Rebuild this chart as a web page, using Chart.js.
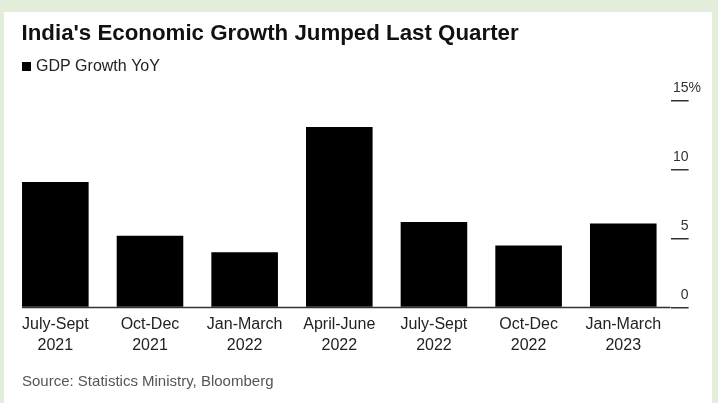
<!DOCTYPE html>
<html>
<head>
<meta charset="utf-8">
<script src="https://cdn.jsdelivr.net/npm/chart.js@4.4.1/dist/chart.umd.min.js"></script>
<style>
  html, body { margin: 0; padding: 0; }
  body { width: 718px; height: 403px; background: #e2eed9; position: relative; overflow: hidden; }
  #panel { position: absolute; left: 4px; top: 12px; width: 708px; height: 391px; background: #fff; }
  canvas { display: block; }
</style>
</head>
<body>
<div id="panel"><canvas id="gdp" width="708" height="391"></canvas></div>
<script>
// Quarterly real GDP growth, year over year (%)
const quarters = [
  ["July-Sept", "2021"],
  ["Oct-Dec", "2021"],
  ["Jan-March", "2022"],
  ["April-June", "2022"],
  ["July-Sept", "2022"],
  ["Oct-Dec", "2022"],
  ["Jan-March", "2023"]
];
const gdpGrowth = [9.1, 5.2, 4.0, 13.1, 6.2, 4.5, 6.1];
const yTicks = [0, 5, 10, 15];
const seriesName = "GDP Growth YoY";
const chartTitle = "India's Economic Growth Jumped Last Quarter";
const sourceNote = "Source: Statistics Ministry, Bloomberg";

const FONT = '"Liberation Sans", Arial, Helvetica, sans-serif';
const INK = '#333';

// Baseline, right-hand value labels, headline, key and source line
const decorations = {
  id: 'decorations',
  afterDatasetsDraw(chart) {
    const { ctx, chartArea, scales: { y } } = chart;
    const bars = chart.getDatasetMeta(0).data;
    const zeroY = y.getPixelForValue(0);
    ctx.save();
    ctx.strokeStyle = INK;
    ctx.lineWidth = 1.5;
    ctx.beginPath();
    ctx.moveTo(bars[0].x - bars[0].width / 2, zeroY);
    ctx.lineTo(chartArea.right, zeroY);
    ctx.stroke();

    ctx.font = '14px ' + FONT;
    ctx.fillStyle = INK;
    ctx.textBaseline = 'alphabetic';
    const labelX = chartArea.right + 18;
    y.ticks.forEach((t, i) => {
      const py = y.getPixelForValue(t.value) - 9;
      ctx.textAlign = 'right';
      ctx.fillText(String(t.value), labelX, py);
      if (i === y.ticks.length - 1) {
        ctx.textAlign = 'left';
        ctx.fillText('%', labelX, py);
      }
    });
    ctx.restore();
  },
  afterDraw(chart) {
    const { ctx } = chart;
    const ds = chart.data.datasets[0];
    ctx.save();
    ctx.textAlign = 'left';
    ctx.textBaseline = 'alphabetic';
    ctx.fillStyle = '#111';
    ctx.font = 'bold 22.3px ' + FONT;
    ctx.fillText(chartTitle, 17.5, 28);

    ctx.fillStyle = ds.backgroundColor;
    ctx.fillRect(18, 50, 9, 9);
    ctx.fillStyle = '#222';
    ctx.font = '16px ' + FONT;
    ctx.textBaseline = 'middle';
    ctx.fillText(ds.label, 32, 55);

    ctx.fillStyle = '#555';
    ctx.font = '15px ' + FONT;
    ctx.fillText(sourceNote, 18, 370);
    ctx.restore();
  }
};

new Chart(document.getElementById('gdp'), {
  type: 'bar',
  data: {
    labels: quarters,
    datasets: [{
      label: seriesName,
      data: gdpGrowth,
      backgroundColor: '#000',
      borderWidth: 0,
      barPercentage: 0.7035,
      categoryPercentage: 1
    }]
  },
  options: {
    responsive: false,
    devicePixelRatio: 1,
    animation: false,
    layout: { padding: { left: 4, right: 23.4, top: 88.7, bottom: 40.3 } },
    plugins: { legend: { display: false }, tooltip: { enabled: false }, title: { display: false } },
    scales: {
      x: {
        offset: true,
        grid: { display: false, drawTicks: false },
        border: { display: false },
        ticks: {
          autoSkip: false,
          maxRotation: 0,
          padding: 6,
          color: '#222',
          font: { family: FONT, size: 16, lineHeight: 1.35 }
        }
      },
      y: {
        position: 'right',
        min: 0,
        max: 15,
        afterBuildTicks: (scale) => { scale.ticks = yTicks.map(v => ({ value: v })); },
        grid: { drawOnChartArea: false, drawTicks: true, tickLength: 18, color: INK, lineWidth: 1.5 },
        border: { display: false },
        ticks: { display: false }
      }
    }
  },
  plugins: [decorations]
});
</script>
</body>
</html>
